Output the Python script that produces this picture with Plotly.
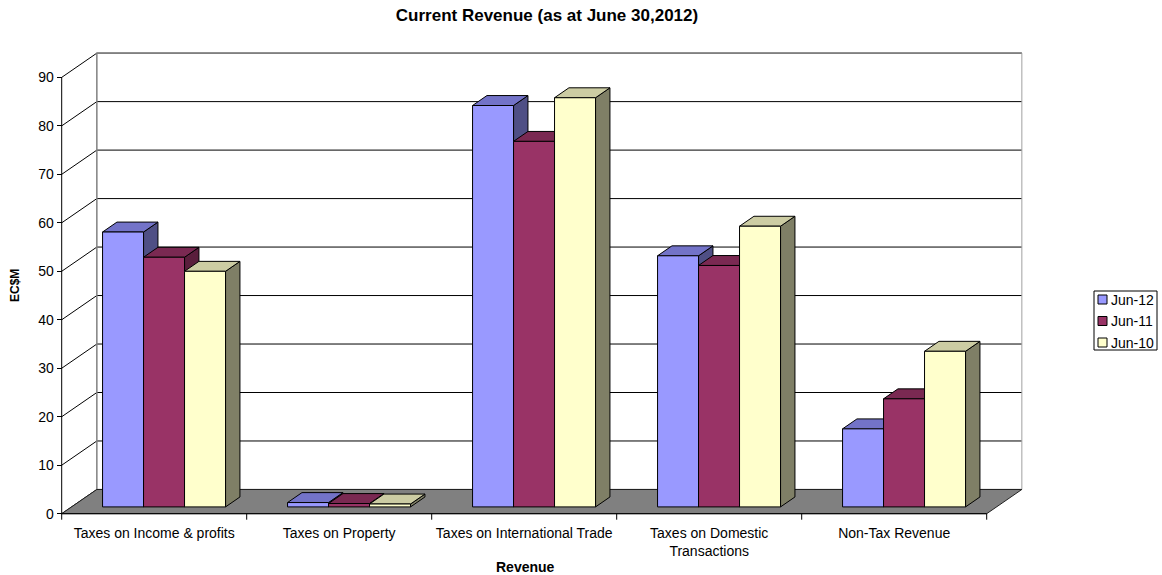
import plotly.graph_objects as go

# ---- data ----
categories = [
    "Taxes on Income & profits",
    "Taxes on Property",
    "Taxes on International Trade",
    "Taxes on Domestic<br>Transactions",
    "Non-Tax Revenue",
]
series_names = ["Jun-12", "Jun-11", "Jun-10"]
jun12 = [56.7, 0.9, 82.8, 51.8, 16.1]
jun11 = [51.5, 0.7, 75.4, 49.8, 22.3]
jun10 = [48.6, 0.6, 84.4, 57.9, 32.1]
y_ticks = list(range(0, 100, 10))

series_values = [jun12, jun11, jun10]
front_colors = ["#9999FF", "#993366", "#FFFFCC"]
top_colors = ["#7373C8", "#7A2952", "#CCCCA3"]
side_colors = ["#4F4F85", "#5A1E3C", "#7F7F66"]

FONT = "Liberation Sans, Arial, sans-serif"

# ---- pseudo-3D projection (oblique) ----
N = len(categories)
DX, DY = 0.19, 5.0          # full floor depth, in category / value units
F0, F1 = 0.28, 0.69         # front and back depth of the columns
BAR_W = 0.2216              # column width in category units
Y_MAX = max(y_ticks)


def proj(x, depth, h):
    return x + depth * DX, h + depth * DY


def poly(points):
    xs, ys = [], []
    for p in points:
        px, py = proj(*p)
        xs.append(px)
        ys.append(py)
    xs.append(xs[0])
    ys.append(ys[0])
    return xs, ys


fig = go.Figure()

# walls: gridlines on the side wall (diagonals) and back wall (horizontals)
gx, gy = [], []
for v in y_ticks:
    a = proj(0, 0, v)
    b = proj(0, 1, v)
    c = proj(N, 1, v)
    gx += [a[0], b[0], c[0], None]
    gy += [a[1], b[1], c[1], None]
fig.add_trace(go.Scatter(x=gx, y=gy, mode="lines",
                         line=dict(color="#000000", width=1),
                         hoverinfo="skip", showlegend=False))

# back wall border
bx, by = [], []
for p in [(0, 1, 0), (0, 1, Y_MAX), (N, 1, Y_MAX)]:
    q = proj(*p)
    bx.append(q[0])
    by.append(q[1])
fig.add_trace(go.Scatter(x=bx, y=by, mode="lines",
                         line=dict(color="#808080", width=1.5),
                         hoverinfo="skip", showlegend=False))
r0, r1 = proj(N, 1, 0), proj(N, 1, Y_MAX)
fig.add_trace(go.Scatter(x=[r0[0], r1[0]], y=[r0[1], r1[1]], mode="lines",
                         line=dict(color="#A0A0A0", width=1),
                         hoverinfo="skip", showlegend=False))

# floor
fx, fy = poly([(0, 0, 0), (N, 0, 0), (N, 1, 0), (0, 1, 0)])
fig.add_trace(go.Scatter(x=fx, y=fy, mode="lines", fill="toself",
                         fillcolor="#808080",
                         line=dict(color="#202020", width=1),
                         hoverinfo="skip", showlegend=False))

# columns: side, top and front faces, series drawn left to right
for s, (name, vals) in enumerate(zip(series_names, series_values)):
    faces = {"side": ([], []), "top": ([], []), "front": ([], [])}
    for c, v in enumerate(vals):
        x0 = c + 0.5 - 1.5 * BAR_W + s * BAR_W
        x1 = x0 + BAR_W
        shapes = {
            "side": [(x1, F0, 0), (x1, F1, 0), (x1, F1, v), (x1, F0, v)],
            "top": [(x0, F0, v), (x1, F0, v), (x1, F1, v), (x0, F1, v)],
            "front": [(x0, F0, 0), (x1, F0, 0), (x1, F0, v), (x0, F0, v)],
        }
        for k, pts in shapes.items():
            xs, ys = poly(pts)
            faces[k][0].extend(xs + [None])
            faces[k][1].extend(ys + [None])
    for k, color in (("side", side_colors[s]), ("top", top_colors[s]),
                     ("front", front_colors[s])):
        fig.add_trace(go.Scatter(
            x=faces[k][0], y=faces[k][1], mode="lines", fill="toself",
            fillcolor=color, line=dict(color="#000000", width=1),
            name=name, hoverinfo="skip", showlegend=False))

# front axis lines and category tick marks
ox, oy = [0, 0, N], [Y_MAX, 0, 0]
fig.add_trace(go.Scatter(x=ox, y=oy, mode="lines",
                         line=dict(color="#000000", width=1),
                         hoverinfo="skip", showlegend=False))
tick_len = 6 / 4.848
tx, ty = [], []
for k in range(N + 1):
    tx += [k, k, None]
    ty += [0, -tick_len, None]
fig.add_trace(go.Scatter(x=tx, y=ty, mode="lines",
                         line=dict(color="#000000", width=1),
                         hoverinfo="skip", showlegend=False))

# ---- layout: plot box in pixels ----
W_FIG, H_FIG = 1162, 575
L, R, T, B = 50, 1030, 46, 524
PX_X0, PX_PER_CAT = 61.7, 185.0
PX_Y0, PX_PER_UNIT = 513.7, 4.848
x_range = [(L - PX_X0) / PX_PER_CAT, (R - PX_X0) / PX_PER_CAT]
y_range = [(PX_Y0 - B) / PX_PER_UNIT, (PX_Y0 - T) / PX_PER_UNIT]


def paper_x(px):
    return (px - L) / (R - L)


def paper_y(py):
    return (B - py) / (B - T)


fig.update_layout(
    width=W_FIG, height=H_FIG,
    margin=dict(l=L, r=W_FIG - R, t=T, b=H_FIG - B, pad=0),
    paper_bgcolor="white", plot_bgcolor="white",
    font=dict(family=FONT, size=14, color="#000000"),
    showlegend=False,
    title=dict(text="<b>Current Revenue (as at June 30,2012)</b>",
               x=547 / W_FIG, xanchor="center", xref="container",
               y=1 - 15 / H_FIG, yanchor="middle", yref="container",
               font=dict(family=FONT, size=17, color="#000000")),
    xaxis=dict(range=x_range, anchor="free", position=paper_y(PX_Y0),
               tickmode="array", tickvals=[c + 0.5 for c in range(N)],
               ticktext=categories, ticks="outside", ticklen=6,
               tickcolor="rgba(0,0,0,0)", showline=False, showgrid=False,
               zeroline=False, tickangle=0,
               tickfont=dict(family=FONT, size=14, color="#000000")),
    yaxis=dict(range=y_range, anchor="free", position=paper_x(PX_X0),
               tickmode="array", tickvals=y_ticks,
               ticktext=[str(v) for v in y_ticks], ticks="outside",
               ticklen=5, tickcolor="#000000", tickwidth=1,
               showline=False, showgrid=False, zeroline=False,
               tickfont=dict(family=FONT, size=14, color="#000000")),
)

annotations = [
    dict(text="<b>Revenue</b>", x=paper_x(525), y=paper_y(567),
         xref="paper", yref="paper", showarrow=False,
         xanchor="center", yanchor="middle",
         font=dict(family=FONT, size=14, color="#000000")),
    dict(text="<b>EC$M</b>", x=paper_x(15), y=paper_y(286),
         xref="paper", yref="paper", showarrow=False, textangle=-90,
         xanchor="center", yanchor="middle",
         font=dict(family=FONT, size=12, color="#000000")),
]

# legend box
shapes = [dict(type="rect", xref="paper", yref="paper",
               x0=paper_x(1094), x1=paper_x(1157),
               y0=paper_y(350), y1=paper_y(291),
               line=dict(color="#000000", width=1), fillcolor="white")]
for i, (name, color) in enumerate(zip(series_names, front_colors)):
    cy = 299.5 + i * 21.5
    shapes.append(dict(type="rect", xref="paper", yref="paper",
                       x0=paper_x(1098), x1=paper_x(1107),
                       y0=paper_y(cy + 4.5), y1=paper_y(cy - 4.5),
                       line=dict(color="#000000", width=1), fillcolor=color))
    annotations.append(dict(text=name, x=paper_x(1109), y=paper_y(cy),
                            xref="paper", yref="paper", showarrow=False,
                            xanchor="left", yanchor="middle",
                            font=dict(family=FONT, size=14, color="#000000")))

fig.update_layout(annotations=annotations, shapes=shapes)

fig.write_html("out.html")
